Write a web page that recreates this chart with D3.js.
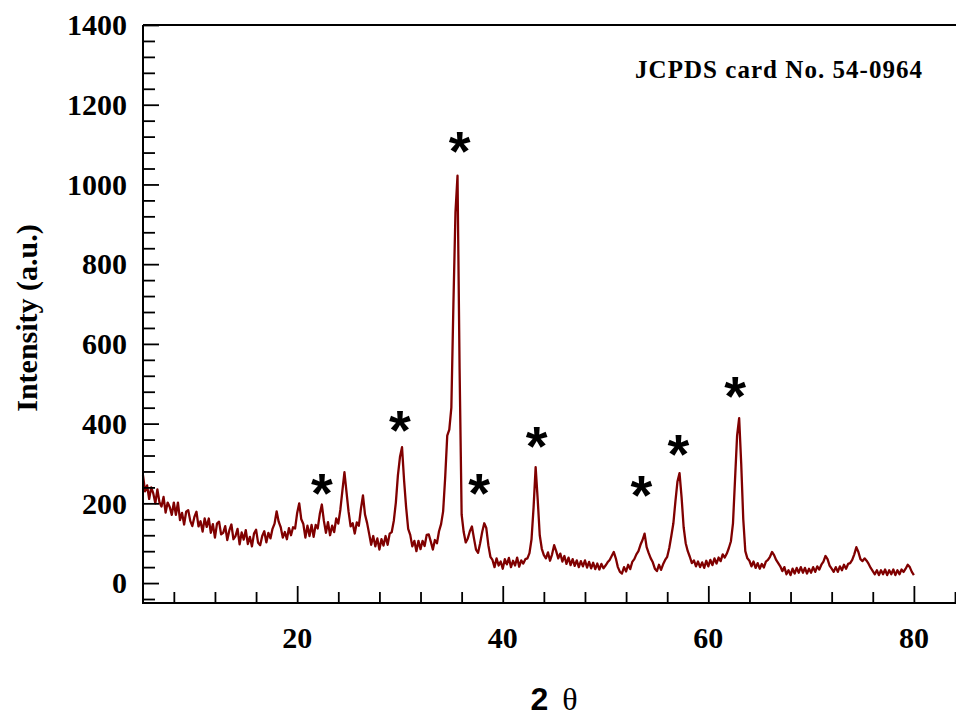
<!DOCTYPE html>
<html><head><meta charset="utf-8">
<script src="https://cdn.jsdelivr.net/npm/d3@7/dist/d3.min.js"></script>
<style>body{margin:0;background:#fff}svg{display:block}</style>
</head><body>
<svg id="chart" width="956" height="718"></svg>
<script>
// ---- data ----
const startAngle = 5.0;
const stepAngle = 0.2;
const intensity = [
270,230,245,211,240,225,200,235,203,192,
216,177,202,191,171,202,171,202,158,176,
147,179,183,156,143,166,179,142,155,129,
162,141,162,126,148,114,149,154,122,126,
143,108,132,147,110,118,136,97,127,109,
133,98,116,92,124,134,101,95,118,130,
102,126,112,136,149,180,154,140,114,128,
110,138,120,140,137,176,200,160,148,114,
144,118,146,116,146,137,173,197,156,126,
153,120,144,128,162,149,184,232,278,228,
179,142,150,124,152,144,186,220,172,151,
124,96,118,92,112,84,110,94,118,96,
124,128,156,202,270,316,341,258,190,136,
121,92,106,80,106,85,106,93,121,122,
104,84,108,100,130,148,180,265,370,385,
440,700,930,1022,540,172,128,102,112,130,
142,112,84,76,100,128,150,138,95,66,
58,40,62,44,54,36,60,47,63,40,
56,44,64,41,57,49,60,62,75,110,
190,291,210,120,86,70,62,77,56,72,
95,80,62,74,54,68,48,64,45,60,
43,57,40,55,42,57,39,53,37,51,
35,49,34,48,37,44,52,58,68,78,
62,40,28,24,40,29,46,35,53,60,
72,80,96,108,124,90,75,62,52,36,
30,46,33,47,58,66,88,118,150,205,
255,276,215,140,100,80,66,50,57,42,
54,40,52,38,56,42,58,45,62,49,
64,55,72,64,74,88,105,150,260,370,
414,300,160,80,62,56,42,54,38,50,
36,48,39,54,58,66,78,70,58,50,
42,30,40,22,32,20,36,24,38,26,
40,26,38,24,36,26,40,28,42,34,
46,54,68,60,44,36,28,40,28,42,
32,46,36,48,50,58,72,90,78,60,
55,62,56,48,38,30,22,32,20,32,
22,34,20,32,22,34,20,32,22,34,
28,36,46,40,28,20
];
const xTickLabels = [20, 40, 60, 80];
const yTickLabels = [0, 200, 400, 600, 800, 1000, 1200, 1400];
const peakMarkAngle = [22.4, 30.0, 35.8, 37.7, 43.3, 53.5, 57.1, 62.6];
const peakMarkLevel = [246, 404, 1104, 246, 364, 241, 344, 489];
const cardLabel = "JCPDS card No. 54-0964";
const xTitleNum = "2";
const xTitleSym = "θ";
const yTitle = "Intensity (a.u.)";

// ---- layout ----
const svg = d3.select("#chart");
const L = 143, T = 25, R = 955, B = 603;
const x = d3.scaleLinear().domain([5, 84]).range([L, R]);
const y = d3.scaleLinear().domain([-50, 1400]).range([B, T]);
const serif = "'Liberation Serif','Times New Roman',serif";
const sans = "'Liberation Sans',Arial,sans-serif";

const pts = intensity.map((v, i) => [startAngle + i * stepAngle, v]);

// curve
svg.append("path")
  .datum(pts)
  .attr("fill", "none")
  .attr("stroke", "#800000")
  .attr("stroke-width", 2.3)
  .attr("stroke-linejoin", "round")
  .attr("d", d3.line().x(d => x(d[0])).y(d => y(d[1])));

// minor ticks
const yMinor = d3.range(-40, 1400, 40).filter(v => v % 200 !== 0);
const xMinor = d3.range(8, 85, 4).filter(v => v % 20 !== 0);

const yAxis = d3.axisRight(y).tickValues(yTickLabels).tickSize(16).tickFormat("");
const yAxisMinor = d3.axisRight(y).tickValues(yMinor).tickSize(12).tickFormat("");
const xAxis = d3.axisTop(x).tickValues(xTickLabels).tickSize(17).tickFormat("");
const xAxisMinor = d3.axisTop(x).tickValues(xMinor).tickSize(11).tickFormat("");

function styleAxis(g) {
  g.select(".domain").remove();
  g.selectAll("line").attr("stroke", "#000").attr("stroke-width", 1.8);
}
svg.append("g").attr("transform", `translate(${L},0)`).call(yAxis).call(styleAxis);
svg.append("g").attr("transform", `translate(${L},0)`).call(yAxisMinor).call(styleAxis);
svg.append("g").attr("transform", `translate(0,${B})`).call(xAxis).call(styleAxis);
svg.append("g").attr("transform", `translate(0,${B})`).call(xAxisMinor).call(styleAxis);

// frame
svg.append("path")
  .attr("d", `M${L},${T}H956M${L},${T}V${B}H956`)
  .attr("fill", "none").attr("stroke", "#000").attr("stroke-width", 2);

// tick labels
svg.append("g").selectAll("text").data(yTickLabels).join("text")
  .attr("x", 127).attr("y", d => y(d)).attr("dy", "0.34em")
  .attr("text-anchor", "end")
  .attr("font-family", serif).attr("font-weight", "bold").attr("font-size", 30)
  .text(d => d);
svg.append("g").selectAll("text").data(xTickLabels).join("text")
  .attr("x", d => x(d)).attr("y", 648)
  .attr("text-anchor", "middle")
  .attr("font-family", serif).attr("font-weight", "bold").attr("font-size", 30)
  .text(d => d);

// axis titles
svg.append("text")
  .attr("transform", "translate(37,318) rotate(-90)")
  .attr("text-anchor", "middle")
  .attr("font-family", serif).attr("font-weight", "bold").attr("font-size", 30)
  .text(yTitle);
const xt = svg.append("text").attr("x", 554).attr("y", 710).attr("text-anchor", "middle");
xt.append("tspan").attr("font-family", sans).attr("font-weight", "bold").attr("font-size", 32).text(xTitleNum);
xt.append("tspan").attr("font-family", serif).attr("font-size", 32).attr("dx", 14).text(xTitleSym);

// card annotation
svg.append("text")
  .attr("x", 635).attr("y", 78)
  .attr("font-family", serif).attr("font-weight", "bold").attr("font-size", 25)
  .attr("textLength", 287).attr("lengthAdjust", "spacing")
  .text(cardLabel);

// peak markers
svg.append("g").selectAll("text").data(peakMarkAngle).join("text")
  .attr("x", d => x(d))
  .attr("y", (d, i) => y(peakMarkLevel[i]) + 27)
  .attr("text-anchor", "middle")
  .attr("font-family", sans).attr("font-weight", "bold").attr("font-size", 56)
  .text("*");
</script>
</body></html>
